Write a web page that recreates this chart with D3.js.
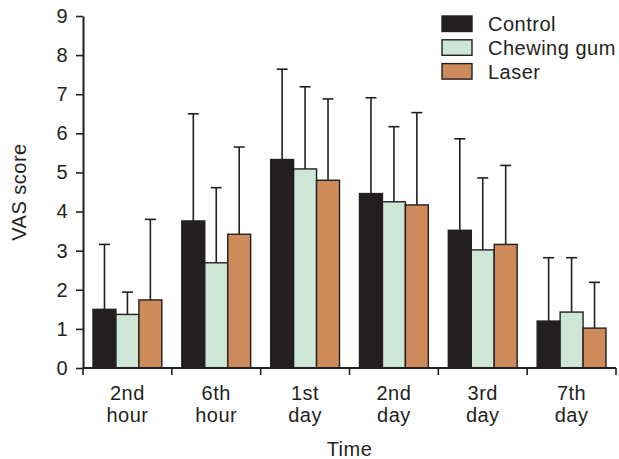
<!DOCTYPE html>
<html>
<head>
<meta charset="utf-8">
<script src="https://cdn.jsdelivr.net/npm/d3@7"></script>
<style>
  body { margin: 0; background: #fff; }
  text { font-family: 'Liberation Sans', Arial, sans-serif; fill: #231f20; letter-spacing: 0.5px; }
</style>
</head>
<body>
<div id="chart"></div>
<script>
const categories = [['2nd', 'hour'], ['6th', 'hour'], ['1st', 'day'], ['2nd', 'day'], ['3rd', 'day'], ['7th', 'day']]
const seriesNames = ['Control', 'Chewing gum', 'Laser']
const seriesColors = ['#231f20', '#cde6d5', '#cd8a5b']

// mean values
const control = [1.50, 3.76, 5.33, 4.46, 3.52, 1.20]
const chewingGum = [1.37, 2.69, 5.09, 4.25, 3.02, 1.43]
const laser = [1.74, 3.42, 4.80, 4.17, 3.16, 1.02]

// top of error bar (mean + SD)
const controlErr = [3.16, 6.50, 7.64, 6.91, 5.86, 2.82]
const chewingGumErr = [1.94, 4.61, 7.19, 6.17, 4.86, 2.82]
const laserErr = [3.80, 5.65, 6.88, 6.53, 5.18, 2.19]

const yTicks = [0, 1, 2, 3, 4, 5, 6, 7, 8, 9]

const fontSize = 20

const margin = { top: 16, right: 3, bottom: 91, left: 83 }
const width = 619 - margin.left - margin.right
const height = 459 - margin.top - margin.bottom

const svg = d3
  .select('#chart')
  .append('svg')
  .attr('width', 619)
  .attr('height', 459)
  .append('g')
  .attr('transform', 'translate(' + margin.left + ',' + margin.top + ')')

const values = [control, chewingGum, laser]
const errs = [controlErr, chewingGumErr, laserErr]

const groupKeys = categories.map((d, i) => i)

const xScale = d3.scaleBand()
  .domain(groupKeys)
  .range([0, width])
  .paddingInner(0)
  .paddingOuter(0)

const xInner = d3.scaleBand()
  .domain([0, 1, 2])
  .range([10, xScale.bandwidth() - 10])
  .padding(0)

const yScale = d3.scaleLinear()
  .domain([0, 9])
  .range([height, 0])

const datapoints = []
groupKeys.forEach(g => {
  seriesNames.forEach((s, j) => {
    datapoints.push({ group: g, series: j, value: values[j][g], err: errs[j][g] })
  })
})

// error bars first so bars sit over their bottom
const errG = svg.selectAll('.err')
  .data(datapoints)
  .enter()
  .append('g')
  .attr('class', 'err')
  .attr('transform', d => 'translate(' + (xScale(d.group) + xInner(d.series) + xInner.bandwidth() / 2) + ',0)')

errG.append('line')
  .attr('x1', 0).attr('x2', 0)
  .attr('y1', d => yScale(d.value))
  .attr('y2', d => yScale(d.err))
  .attr('stroke', '#231f20')
  .attr('stroke-width', 1.6)

errG.append('line')
  .attr('x1', -5.5).attr('x2', 5.5)
  .attr('y1', d => yScale(d.err))
  .attr('y2', d => yScale(d.err))
  .attr('stroke', '#231f20')
  .attr('stroke-width', 1.6)

svg.selectAll('.bar')
  .data(datapoints)
  .enter()
  .append('rect')
  .attr('class', 'bar')
  .attr('x', d => xScale(d.group) + xInner(d.series))
  .attr('y', d => yScale(d.value))
  .attr('width', xInner.bandwidth())
  .attr('height', d => height - yScale(d.value))
  .attr('fill', d => seriesColors[d.series])
  .attr('stroke', '#231f20')
  .attr('stroke-width', 1.4)

// y axis
const yAxis = d3.axisLeft(yScale).tickValues(yTicks).tickSize(7).tickPadding(8).tickSizeOuter(0)
const yG = svg.append('g').attr('class', 'axis y-axis').call(yAxis)
yG.select('.domain').attr('stroke', '#231f20').attr('stroke-width', 2)
yG.selectAll('.tick line').attr('stroke', '#231f20').attr('stroke-width', 1.6)
yG.selectAll('.tick text').attr('font-size', fontSize).attr('fill', '#231f20')
  .style('font-family', "'Liberation Sans', Arial, sans-serif")

// x axis with ticks at group boundaries
const xG = svg.append('g')
  .attr('class', 'axis x-axis')
  .attr('transform', 'translate(0,' + height + ')')

xG.append('line')
  .attr('x1', 0).attr('x2', width)
  .attr('stroke', '#231f20').attr('stroke-width', 2)

const bounds = groupKeys.map(g => xScale(g)).concat([width])
xG.selectAll('.xtick')
  .data(bounds)
  .enter()
  .append('line')
  .attr('class', 'xtick')
  .attr('x1', d => d).attr('x2', d => d)
  .attr('y1', 0).attr('y2', 7)
  .attr('stroke', '#231f20').attr('stroke-width', 1.6)

const labels = xG.selectAll('.xlabel')
  .data(categories)
  .enter()
  .append('text')
  .attr('class', 'xlabel')
  .attr('text-anchor', 'middle')
  .attr('font-size', fontSize)
  .attr('x', (d, i) => xScale(i) + xScale.bandwidth() / 2)

labels.append('tspan')
  .attr('x', (d, i) => xScale(i) + xScale.bandwidth() / 2)
  .attr('y', 32)
  .text(d => d[0])
labels.append('tspan')
  .attr('x', (d, i) => xScale(i) + xScale.bandwidth() / 2)
  .attr('y', 54)
  .text(d => d[1])

// axis titles
svg.append('text')
  .attr('text-anchor', 'middle')
  .attr('font-size', fontSize)
  .attr('x', width / 2)
  .attr('y', height + 88)
  .text('Time')

svg.append('text')
  .attr('text-anchor', 'middle')
  .attr('font-size', fontSize)
  .attr('transform', 'translate(' + (-57) + ',' + (yScale(4.5)) + ') rotate(-90)')
  .text('VAS score')

// legend
const legend = svg.selectAll('.legend')
  .data(seriesNames)
  .enter()
  .append('g')
  .attr('class', 'legend')
  .attr('transform', (d, i) => 'translate(' + (442 - margin.left) + ',' + (16 - margin.top + i * 23.8) + ')')

legend.append('rect')
  .attr('width', 30)
  .attr('height', 15.5)
  .attr('fill', (d, i) => seriesColors[i])
  .attr('stroke', '#231f20')
  .attr('stroke-width', 1.4)

legend.append('text')
  .attr('x', 46)
  .attr('y', 15)
  .attr('font-size', fontSize)
  .text(d => d)
</script>
</body>
</html>
